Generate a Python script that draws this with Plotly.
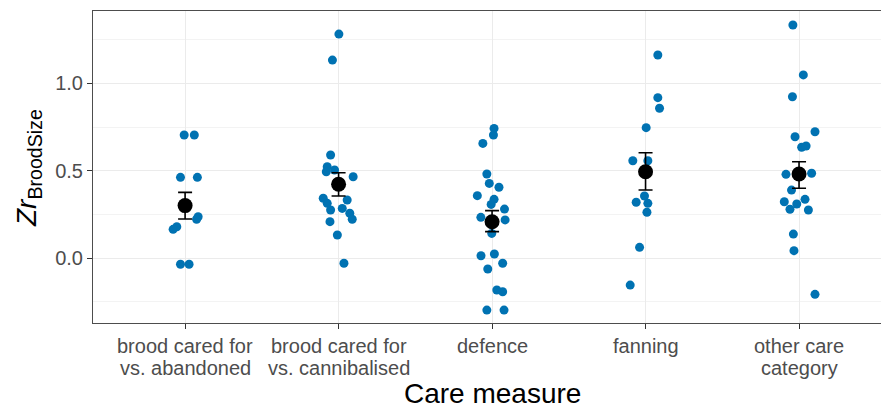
import plotly.graph_objects as go

# two-line category labels
cat_line1 = ["brood cared for", "brood cared for", "defence", "fanning", "other care"]
cat_line2 = ["vs. abandoned", "vs. cannibalised", "", "", "category"]

# individual effect sizes (Zr) per care measure, with horizontal jitter
zr_1 = [0.704, 0.704, 0.462, 0.462, 0.236, 0.222, 0.179, 0.164, -0.036, -0.036]
jit_1 = [-0.006, 0.06, -0.03, 0.08, 0.085, 0.075, -0.054, -0.078, -0.03, 0.026]

zr_2 = [1.282, 1.133, 0.590, 0.523, 0.494, 0.504, 0.465, 0.342, 0.313, 0.332, 0.275, 0.284,
        0.256, 0.222, 0.208, 0.132, -0.030]
jit_2 = [0.002, -0.04, -0.052, -0.074, -0.08, -0.026, 0.095, -0.1, -0.074, 0.056, -0.052, 0.024,
         0.073, 0.089, -0.056, -0.008, 0.035]

zr_3 = [0.742, 0.704, 0.656, 0.481, 0.427, 0.405, 0.357, 0.336, 0.307, 0.280, 0.233, 0.218,
        0.141, 0.013, 0.023, -0.030, -0.063, -0.183, -0.193, -0.298, -0.298]
jit_3 = [0.013, 0.009, -0.06, -0.034, -0.018, 0.045, -0.096, 0.013, -0.006, 0.081, -0.073, 0.085,
         -0.002, -0.072, 0.015, 0.069, -0.028, 0.031, 0.069, -0.034, 0.078]

zr_4 = [1.162, 0.918, 0.857, 0.746, 0.557, 0.557, 0.355, 0.319, 0.313, 0.262, 0.061, -0.155]
jit_4 = [0.08, 0.08, 0.091, 0.004, -0.083, 0.015, -0.007, -0.061, 0.015, 0.009, -0.039, -0.1]

zr_5 = [1.334, 1.048, 0.923, 0.723, 0.694, 0.634, 0.641, 0.479, 0.485, 0.389, 0.322, 0.279,
        0.309, 0.336, 0.275, 0.137, 0.042, -0.208]
jit_5 = [-0.04, 0.028, -0.043, 0.104, -0.026, 0.017, 0.046, -0.085, 0.082, -0.049, -0.096, -0.059,
         -0.015, 0.039, 0.061, -0.037, -0.033, 0.104]

mean_zr = [0.300, 0.422, 0.208, 0.494, 0.481]
lower_zr = [0.223, 0.355, 0.151, 0.389, 0.399]
upper_zr = [0.376, 0.488, 0.271, 0.603, 0.551]

y_ticks = [0.0, 0.5, 1.0]
y_ticklabels = ["0.0", "0.5", "1.0"]
y_minor = [-0.25, 0.25, 0.75, 1.25]

all_zr = [zr_1, zr_2, zr_3, zr_4, zr_5]
all_jit = [jit_1, jit_2, jit_3, jit_4, jit_5]

xs, ys = [], []
for i, (zr, jt) in enumerate(zip(all_zr, all_jit)):
    for v, j in zip(zr, jt):
        xs.append(i + 1 + j)
        ys.append(v)

fig = go.Figure()
fig.add_trace(go.Scatter(
    x=xs, y=ys, mode="markers",
    marker=dict(color="#0072B2", size=9, line=dict(width=0)),
    hoverinfo="y", showlegend=False))

pos = list(range(1, len(cat_line1) + 1))
fig.add_trace(go.Scatter(
    x=pos, y=mean_zr, mode="markers",
    marker=dict(color="black", size=15, line=dict(width=0)),
    error_y=dict(type="data", symmetric=False,
                 array=[u - m for u, m in zip(upper_zr, mean_zr)],
                 arrayminus=[m - l for m, l in zip(mean_zr, lower_zr)],
                 color="black", thickness=1.6, width=7),
    showlegend=False))

font_family = "Liberation Sans, Arial, sans-serif"
tick_font = dict(size=20, color="#4d4d4d", family=font_family)

annotations = []
for p, l1, l2 in zip(pos, cat_line1, cat_line2):
    annotations.append(dict(text=l1, xref="x", yref="paper", x=p, y=0, xanchor="center",
                            yanchor="middle", yshift=-(346 - 323), showarrow=False,
                            font=tick_font))
    if l2:
        annotations.append(dict(text=l2, xref="x", yref="paper", x=p, y=0, xanchor="center",
                                yanchor="middle", yshift=-(368 - 323), showarrow=False,
                                font=tick_font))

annotations += [
    dict(text="Care measure", xref="paper", yref="paper", x=(492 - 93) / 788, y=0,
         xanchor="center", yanchor="middle", yshift=-(393 - 323), showarrow=False,
         font=dict(size=28, color="black", family=font_family)),
    dict(text="<i>Zr</i><sub>BroodSize</sub>", xref="paper", yref="paper",
         x=0, y=(323 - 168) / 312, xshift=-(93 - 28), xanchor="center", yanchor="middle",
         textangle=-90, showarrow=False,
         font=dict(size=28, color="black", family=font_family)),
]

fig.update_layout(
    width=881, height=409,
    margin=dict(l=93, r=0, t=11, b=86),
    plot_bgcolor="white", paper_bgcolor="white",
    font=dict(family=font_family),
    xaxis=dict(
        range=[0.4, 5.534], tickmode="array", tickvals=pos, showticklabels=False,
        showgrid=True, gridcolor="#ebebeb", gridwidth=1.2, zeroline=False,
        showline=True, linecolor="#4d4d4d", linewidth=1, mirror=True,
        ticks="outside", ticklen=5, tickcolor="#333333", tickwidth=1,
    ),
    yaxis=dict(
        range=[-0.372, 1.414], tickmode="array", tickvals=y_ticks, ticktext=y_ticklabels,
        showgrid=True, gridcolor="#ebebeb", gridwidth=1.2, zeroline=False,
        showline=True, linecolor="#4d4d4d", linewidth=1, mirror=False,
        ticks="outside", ticklen=5, tickcolor="#333333", tickwidth=1,
        tickfont=tick_font,
        minor=dict(tickmode="array", tickvals=y_minor, showgrid=True,
                   gridcolor="#f3f3f3", gridwidth=0.7, ticks=""),
    ),
    annotations=annotations,
)

fig.write_html("out.html")
